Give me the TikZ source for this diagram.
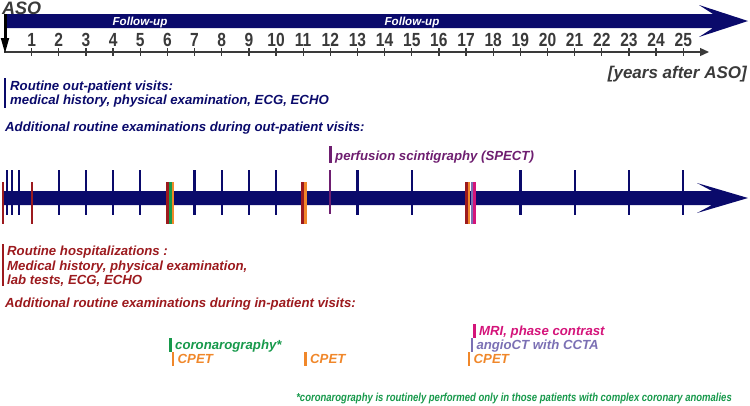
\documentclass[tikz,border=0pt]{standalone}
\usepackage{fontspec}
\setmainfont{Liberation Sans}
\newfontfamily\narrowsf[FakeStretch=0.82]{Liberation Sans}
\usetikzlibrary{arrows.meta}
\definecolor{navy}{HTML}{0A0A6B}
\definecolor{axgray}{HTML}{3A3A3A}
\definecolor{hosp}{HTML}{9C1A1E}
\definecolor{coro}{HTML}{17994B}
\definecolor{cpet}{HTML}{F0872A}
\definecolor{ctca}{HTML}{7B70B4}
\definecolor{mri}{HTML}{D4147A}
\definecolor{spect}{HTML}{6E1E70}

\begin{document}
\begin{tikzpicture}[x=1pt, y=-1pt,
    txt/.style={anchor=base west, inner sep=0pt,
                font=\fontsize{13.2}{15}\selectfont\bfseries\itshape},
    fu/.style={anchor=base, inner sep=0pt, text=white,
               font=\fontsize{11.6}{12}\selectfont\bfseries\itshape},
    num/.style={anchor=base, inner sep=0pt, text=axgray,
                font=\fontsize{19}{19}\selectfont\narrowsf\bfseries},
    axis/.style={axgray, line width=1.3pt},
    asoarrow/.style={black, line width=3pt, -{Triangle[length=16pt, width=7.5pt]}},
    navytick/.style={navy, line width=2.3pt},
    evtick/.style={line width=2.7pt},
    bar/.style={line width=2.5pt},
  ]
  \useasboundingbox (0,0) rectangle (750,405);

  % Follow-up band and years axis
  \fill[navy] (7,14) -- (713,14) -- (699,5) -- (748,21) -- (699,37) -- (713,28) -- (7,28) -- cycle;
  \node[fu] (fu1) at (140,25.2) {Follow-up};
  \node[fu] (fu2) at (412,25.2) {Follow-up};
  \node[anchor=base west, inner sep=0pt, text=axgray,
        font=\fontsize{18}{18}\selectfont\bfseries\itshape] (aso) at (2,14) {ASO};
  \coordinate (y0) at (4,52);
  \coordinate (yend) at (709,52);
  \draw[axis, -{Triangle[length=9pt, width=8pt]}] (y0) -- (yend);
  \foreach \t in {1,...,25} {
    \draw[axis] ({4.5+27.15*\t},48) -- ++(0,8);
    \node[num] (n\t) at ({4.5+27.15*\t},46.3) {\t};
  }
  \coordinate (asobot) at (5,54);
  \draw[asoarrow] (aso.south -| asobot) -- (asobot);
  \node[anchor=base east, inner sep=0pt, text=axgray,
        font=\fontsize{17}{17}\selectfont\bfseries\itshape] (unit) at (747,78) {[years after ASO]};

  % Out-patient visits
  \draw[bar, navy] (5,78) -- (5,108);
  \node[txt, navy] (opv1) at (10,90) {Routine out-patient visits:};
  \node[txt, navy] (opv2) at (10,104.5) {medical history, physical examination, ECG, ECHO};
  \node[txt, navy] (opadd) at (5,131) {Additional routine examinations during out-patient visits:};
  \draw[bar, spect] (330.3,146) -- ++(0,17);
  \node[txt, spect] (spectl) at (335,160) {perfusion scintigraphy (SPECT)};

  % Timeline of visits
  \fill[navy] (3,191) -- (712,191) -- (697,183) -- (748,198) -- (697,213) -- (712,205) -- (3,205) -- cycle;
  \foreach \x in {7,12,19}
    \draw[navytick] (\x,170) -- ++(0,45);
  \foreach \t in {2,3,4,5,7,8,9,10,13,15,19,21,23,25}
    \draw[navytick] ({4.5+27.15*\t},170) -- ++(0,45);
  \draw[navytick, spect] (330.3,170) -- ++(0,44);
  \foreach \x/\c in {3/hosp, 32/hosp, 167.8/hosp, 170.4/coro, 173/cpet,
                     302.8/hosp, 305.6/cpet,
                     466.3/hosp, 469.1/cpet, 471.9/ctca, 474.7/mri}
    \draw[evtick, \c] (\x,182) -- ++(0,42);

  % Hospitalizations
  \draw[bar, hosp] (3,244) -- (3,286);
  \node[txt, hosp] (hp1) at (7,255) {Routine hospitalizations :};
  \node[txt, hosp] (hp2) at (7,270) {Medical history, physical examination,};
  \node[txt, hosp] (hp3) at (7,284.5) {lab tests, ECG, ECHO};
  \node[txt, hosp] (ipadd) at (5,307) {Additional routine examinations during in-patient visits:};

  \draw[bar, coro] (170.4,338) -- ++(0,14);
  \node[txt, coro] (coro6) at (175,349.5) {coronarography*};
  \draw[bar, cpet] (173,352) -- ++(0,14);
  \node[txt, cpet] (cpet6) at (177.5,363.5) {CPET};
  \draw[bar, cpet] (305.6,352) -- ++(0,14);
  \node[txt, cpet] (cpet11) at (310,363.5) {CPET};
  \draw[bar, mri] (474.7,324) -- ++(0,14);
  \node[txt, mri] (mri17) at (479,335.5) {MRI, phase contrast};
  \draw[bar, ctca] (471.9,338) -- ++(0,14);
  \node[txt, ctca] (ctca17) at (476.3,349.5) {angioCT with CCTA};
  \draw[bar, cpet] (469.1,352) -- ++(0,14);
  \node[txt, cpet] (cpet17) at (473.5,363.5) {CPET};

  \node[anchor=base east, inner sep=0pt, text=coro,
        font=\fontsize{11.6}{12}\selectfont\narrowsf\bfseries\itshape] (note) at (732,401)
        {*coronarography is routinely performed only in those patients with complex coronary anomalies};
\end{tikzpicture}
\end{document}
